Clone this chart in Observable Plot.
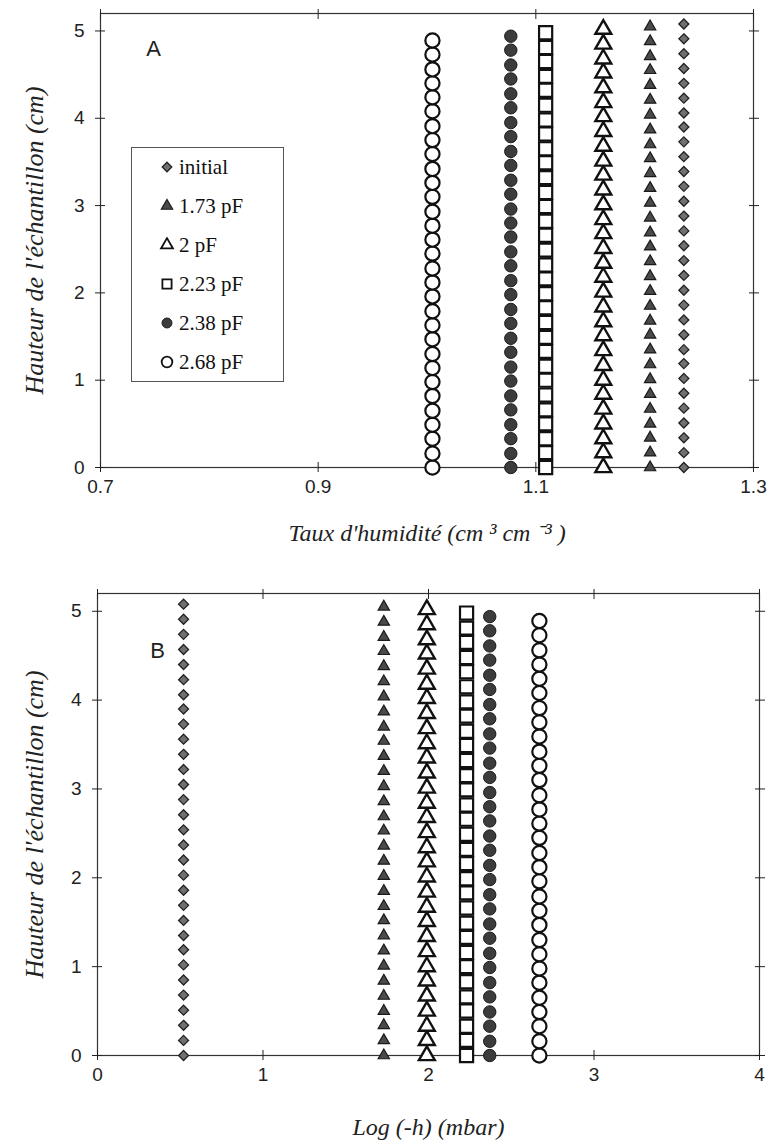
<!DOCTYPE html>
<html><head><meta charset="utf-8">
<script src="https://cdn.jsdelivr.net/npm/d3@7"></script>
<script src="https://cdn.jsdelivr.net/npm/@observablehq/plot@0.6"></script>
<style>
body{margin:0;background:#fff;}
#wrap{position:relative;width:767px;height:1142px;overflow:hidden;}
#wrap svg{display:block;}
#legend{position:absolute;left:131px;top:147px;width:153px;height:235px;border:1px solid #555;box-sizing:border-box;background:#fff;}
.item{position:absolute;left:0;height:30px;display:flex;align-items:center;font-family:"Liberation Serif","Times New Roman",serif;font-size:21px;color:#111;white-space:nowrap;}
.item svg{margin-left:27px;margin-right:4px;}
</style></head><body><div id="wrap"><div id="legend"></div></div>
<script>
// ---- data ----
const series = ["initial", "1.73 pF", "2 pF", "2.23 pF", "2.38 pF", "2.68 pF"];
// moisture content (cm3 cm-3), panel A
const thetaA = [1.236, 1.205, 1.162, 1.109, 1.077, 1.005];
// log(-h) (mbar), panel B
const logHB = [0.52, 1.73, 1.99, 2.23, 2.37, 2.67];
// sample heights (cm) per series
const hInitial = [0, 0.17, 0.34, 0.51, 0.68, 0.85, 1.02, 1.19, 1.35, 1.52, 1.69, 1.86, 2.03, 2.20, 2.37, 2.54, 2.71, 2.88, 3.05, 3.22, 3.39, 3.56, 3.73, 3.90, 4.06, 4.23, 4.40, 4.57, 4.74, 4.91, 5.08];
const h173 = [0, 0.17, 0.34, 0.50, 0.67, 0.84, 1.01, 1.18, 1.35, 1.52, 1.68, 1.85, 2.02, 2.19, 2.36, 2.53, 2.69, 2.86, 3.03, 3.20, 3.37, 3.54, 3.70, 3.87, 4.04, 4.21, 4.38, 4.55, 4.71, 4.88, 5.05];
const h200 = [0, 0.17, 0.33, 0.50, 0.67, 0.84, 1.00, 1.17, 1.34, 1.51, 1.67, 1.84, 2.01, 2.18, 2.34, 2.51, 2.68, 2.84, 3.01, 3.18, 3.35, 3.51, 3.68, 3.85, 4.02, 4.18, 4.35, 4.52, 4.68, 4.85, 5.02];
const h223 = [0, 0.17, 0.33, 0.50, 0.66, 0.83, 1.00, 1.16, 1.33, 1.49, 1.66, 1.83, 1.99, 2.16, 2.32, 2.49, 2.66, 2.82, 2.99, 3.15, 3.32, 3.49, 3.65, 3.82, 3.98, 4.15, 4.32, 4.48, 4.65, 4.81, 4.98];
const h238 = [0, 0.16, 0.33, 0.49, 0.66, 0.82, 0.99, 1.15, 1.32, 1.48, 1.65, 1.81, 1.98, 2.14, 2.31, 2.47, 2.64, 2.80, 2.96, 3.13, 3.29, 3.46, 3.62, 3.79, 3.95, 4.12, 4.28, 4.45, 4.61, 4.78, 4.94];
const h268 = [0, 0.16, 0.33, 0.49, 0.65, 0.82, 0.98, 1.14, 1.30, 1.47, 1.63, 1.79, 1.96, 2.12, 2.28, 2.45, 2.61, 2.77, 2.93, 3.10, 3.26, 3.42, 3.59, 3.75, 3.91, 4.08, 4.24, 4.40, 4.56, 4.73, 4.89];
const heights = [hInitial, h173, h200, h223, h238, h268];
const xTicksA = [0.7, 0.9, 1.1, 1.3];
const xTickLabelsA = ["0.7", "0.9", "1.1", "1.3"];
const xTicksB = [0, 1, 2, 3, 4];
const xTickLabelsB = ["0", "1", "2", "3", "4"];
const yTicks = [0, 1, 2, 3, 4, 5];
const yTickLabels = ["0", "1", "2", "3", "4", "5"];

// ---- styles ----
const styles = [
  {symbol: "diamond2", r: 4.5, fill: "#707070", stroke: "#222", strokeWidth: 1.3},
  {symbol: "triangle", r: 4.2, fill: "#4a4a4a", stroke: "#1a1a1a", strokeWidth: 1.2},
  {symbol: "triangle", r: 5.9, fill: "#fff", stroke: "#111", strokeWidth: 2.4},
  {symbol: "square", r: 7.4, fill: "#fff", stroke: "#111", strokeWidth: 2.2},
  {symbol: "circle", r: 6.2, fill: "#3c3c3c", stroke: "#1a1a1a", strokeWidth: 1},
  {symbol: "circle", r: 7.1, fill: "#fff", stroke: "#111", strokeWidth: 2.2}
];

const rows = series.flatMap((s, i) => heights[i].map(h => ({s, theta: thetaA[i], logh: logHB[i], h})));

const sans = "'Liberation Sans', Arial, sans-serif";
const serif = "'Liberation Serif', 'Times New Roman', serif";

function panel(o) {
  const fmt = d => o.tickLabels[o.ticks.indexOf(d)];
  const yfmt = d => yTickLabels[yTicks.indexOf(d)];
  return Plot.plot({
    width: 767, height: o.height,
    marginLeft: o.ml, marginRight: o.mr, marginTop: o.mt, marginBottom: o.mb,
    x: {domain: o.domain},
    y: {domain: [0, 5.2]},
    style: {fontFamily: sans, fontSize: "19px", color: "#222", background: "transparent"},
    marks: [
      Plot.frame({stroke: "#333", strokeWidth: 1.2}),
      Plot.axisX(o.ticks, {anchor: "bottom", tickSize: 10, dy: -5, tickPadding: 7, tickFormat: fmt, label: null}),
      Plot.axisX(o.ticks, {anchor: "top", tickSize: 10, dy: 5, fill: "none", label: null}),
      Plot.axisY(yTicks, {anchor: "left", tickSize: 10, dx: 5, tickPadding: 11, tickFormat: yfmt, label: null}),
      Plot.axisY(yTicks, {anchor: "right", tickSize: 10, dx: -5, fill: "none", label: null}),
      ...series.map((s, i) => Plot.dot(rows.filter(d => d.s === s), {x: o.xField, y: "h", ...styles[i]})),
      Plot.text([o.letter], {frameAnchor: "top-left", dx: o.letterDx, dy: o.letterDy, text: d => d, textAnchor: "middle", lineAnchor: "middle", fontSize: 22, fontFamily: sans, fill: "#222"}),
      Plot.text([o.xLabel], {frameAnchor: "bottom", dy: o.xLabelDy, text: d => d, lineAnchor: "middle", fontSize: 24, fontStyle: "italic", fontFamily: serif, fill: "#222"}),
      Plot.text(["Hauteur de l'échantillon (cm)"], {frameAnchor: "left", dx: o.yLabelDx, rotate: -90, text: d => d, textAnchor: "middle", lineAnchor: "middle", fontSize: 26, fontStyle: "italic", fontFamily: serif, fill: "#222"})
    ]
  });
}

const wrap = document.getElementById("wrap");
const A = panel({height: 560, ml: 100, mr: 14, mt: 13, mb: 93, domain: [0.7, 1.3], ticks: xTicksA, tickLabels: xTickLabelsA,
  xField: "theta", letter: "A", letterDx: 53, letterDy: 35, xLabel: "Taux d'humidité (cm ³ cm ⁻³ )", xLabelDy: 66, yLabelDx: -66});
const B = panel({height: 582, ml: 97, mr: 8, mt: 33, mb: 87, domain: [0, 4], ticks: xTicksB, tickLabels: xTickLabelsB,
  xField: "logh", letter: "B", letterDx: 60, letterDy: 57, xLabel: "Log (-h) (mbar)", xLabelDy: 72, yLabelDx: -63});
wrap.insertBefore(A, wrap.firstChild);
wrap.insertBefore(B, A.nextSibling);

// legend (panel A)
const legend = document.getElementById("legend");
series.forEach((s, i) => {
  const st = styles[i];
  const item = document.createElement("div");
  item.className = "item";
  item.style.top = (4 + i * 39) + "px";
  const sz = 16;
  const svg = d3.create("svg").attr("width", sz).attr("height", sz);
  const symMap = {diamond2: d3.symbolDiamond2, triangle: d3.symbolTriangle, square: d3.symbolSquare, circle: d3.symbolCircle};
  const legendScale = [0.95, 1, 0.75, 0.7, 0.8, 0.75][i];
  const r = st.r * legendScale;
  svg.append("path").attr("transform", `translate(${sz / 2},${sz / 2})`)
    .attr("d", d3.symbol(symMap[st.symbol], Math.PI * r * r)())
    .attr("fill", st.fill).attr("stroke", st.stroke).attr("stroke-width", Math.min(st.strokeWidth, 1.8));
  item.appendChild(svg.node());
  const t = document.createElement("span");
  t.textContent = s;
  item.appendChild(t);
  legend.appendChild(item);
});
</script></body></html>
